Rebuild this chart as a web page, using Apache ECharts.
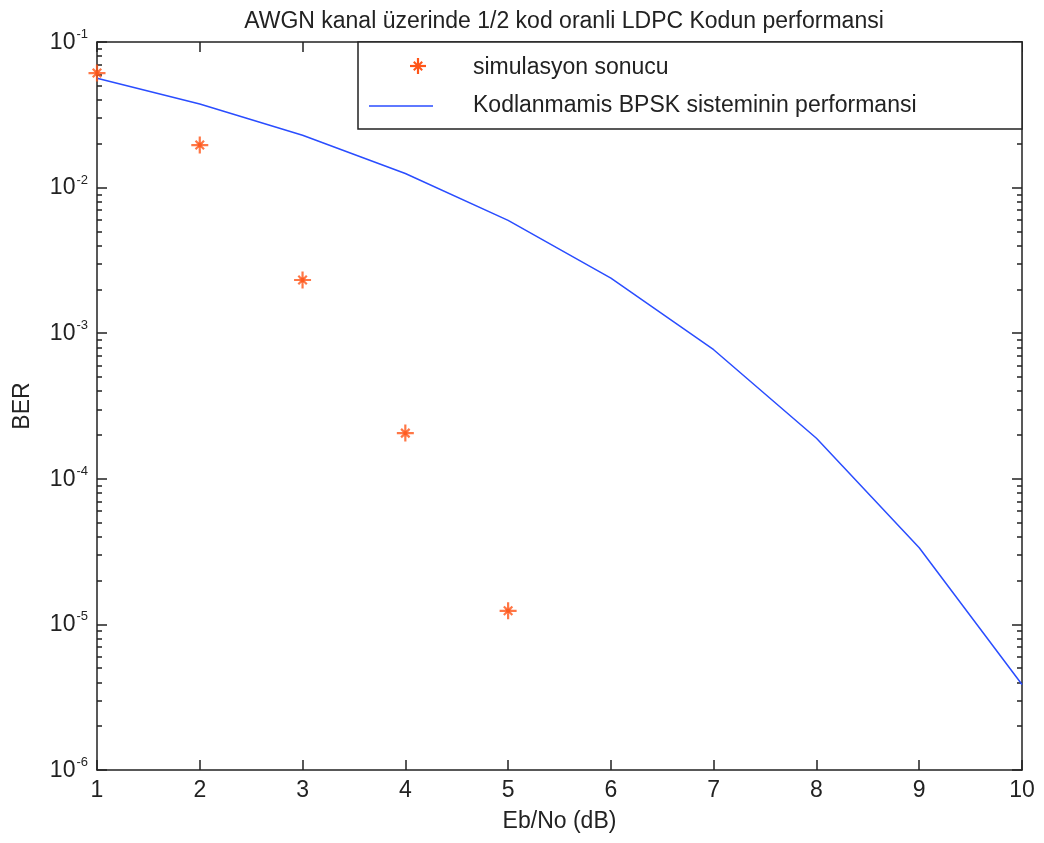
<!DOCTYPE html>
<html><head><meta charset="utf-8">
<script src="https://cdn.jsdelivr.net/npm/echarts@6/dist/echarts.min.js"></script>
<style>html,body{margin:0;padding:0;background:#fff}#c{width:1044px;height:843px}</style>
</head><body><div id="c"></div>
<script>
const ebno = [1,2,3,4,5,6,7,8,9,10];
const simX = [1,2,3,4,5];
const simBER = [0.0612, 0.0196, 0.00232, 0.000206, 0.0000124];
const bpskBER = [0.0563, 0.0375, 0.0229, 0.0125, 0.00595, 0.00239, 0.00077, 0.00019, 0.0000336, 0.00000387];
const titleText = 'AWGN kanal üzerinde 1/2 kod oranli LDPC Kodun performansi';
const simName = 'simulasyon sonucu';
const bpskName = 'Kodlanmamis BPSK sisteminin performansi';

const FONT = 'Liberation Sans, Arial, sans-serif';
const FS = 23;
const INK = '#222';
const MARK = '#ff5518';
const BLUE = '#2a4dff';
const STAR = 'path://M0,-10L0,10M-10,0L10,0M-5,-5L5,5M-5,5L5,-5M-2.6,0A2.6,2.6 0 1,0 2.6,0A2.6,2.6 0 1,0 -2.6,0Z';
const chart = echarts.init(document.getElementById('c'));
const supFmt = v => '{b|10}{s|' + Math.round(Math.log10(v)) + '}';
const axisLine = {show:true, lineStyle:{color:INK, width:1.5}};
const yCommon = {
  type:'log', logBase:10, min:1e-6, max:1e-1,
  axisLine: axisLine,
  axisTick:{show:true, inside:true, length:10, lineStyle:{color:INK, width:1.5}},
  minorTick:{show:true, splitNumber:9, length:5, lineStyle:{color:INK, width:1.5}},
  splitLine:{show:false}
};
chart.setOption({
  animation:false,
  backgroundColor:'#fff',
  title:{text:titleText, left:559, top:5, textAlign:'center',
    textStyle:{fontFamily:FONT, fontSize:FS, fontWeight:'normal', color:INK}},
  grid:{left:97, top:42, right:22, bottom:73, containLabel:false},
  legend:{show:false},
  xAxis:[{
    type:'value', min:1, max:10, interval:1,
    name:'Eb/No (dB)', nameLocation:'middle', nameGap:40,
    nameTextStyle:{fontFamily:FONT, fontSize:FS, color:INK},
    axisLine:axisLine,
    axisTick:{show:true, inside:true, length:10, lineStyle:{color:INK, width:1.5}},
    axisLabel:{fontFamily:FONT, fontSize:FS, color:INK, margin:9},
    splitLine:{show:false}
  },{
    type:'value', min:1, max:10, interval:1, position:'top',
    axisLine:axisLine,
    axisTick:{show:true, inside:true, length:10, lineStyle:{color:INK, width:1.5}},
    axisLabel:{show:false}, splitLine:{show:false}
  }],
  yAxis:[Object.assign({}, yCommon, {
    position:'left',
    name:'BER', nameLocation:'middle', nameGap:63, nameRotate:90,
    nameTextStyle:{fontFamily:FONT, fontSize:FS, color:INK},
    axisLabel:{formatter:supFmt, margin:9, rich:{
      b:{fontFamily:FONT, fontSize:FS, color:INK, verticalAlign:'bottom', lineHeight:24},
      s:{fontFamily:FONT, fontSize:13, color:INK, verticalAlign:'bottom', lineHeight:13, padding:[0,0,13,1]}
    }}
  }), Object.assign({}, yCommon, {position:'right', axisLabel:{show:false}})],
  series:[{
    name:bpskName, type:'line', xAxisIndex:0, yAxisIndex:0,
    data: ebno.map((x,i)=>[x,bpskBER[i]]),
    showSymbol:false, symbol:'none',
    lineStyle:{color:BLUE, width:1.5}, z:2
  },{
    name:simName, type:'scatter', xAxisIndex:0, yAxisIndex:0,
    data: simX.map((x,i)=>[x,simBER[i]]),
    symbol:STAR,
    symbolSize:17,
    itemStyle:{color:MARK, borderColor:MARK, borderWidth:2.2}, z:3
  }],
  graphic:[
    {type:'rect', shape:{x:358, y:42, width:664, height:87}, style:{fill:'#fff', stroke:INK, lineWidth:1.5}, z:100},
    {type:'text', x:473, y:68, style:{text:simName, font:FS+'px '+FONT, fill:INK, textVerticalAlign:'middle'}, z:101},
    {type:'text', x:473, y:106, style:{text:bpskName, font:FS+'px '+FONT, fill:INK, textVerticalAlign:'middle'}, z:101},
    {type:'line', shape:{x1:369, y1:106, x2:433, y2:106}, style:{stroke:BLUE, lineWidth:1.5}, z:101},
    {type:'group', x:418, y:66, z:101, children:[
      {type:'line', shape:{x1:0,y1:-8,x2:0,y2:8}, style:{stroke:MARK, lineWidth:2.2}, z:101},
      {type:'line', shape:{x1:-8,y1:0,x2:8,y2:0}, style:{stroke:MARK, lineWidth:2.2}, z:101},
      {type:'line', shape:{x1:-4.2,y1:-4.2,x2:4.2,y2:4.2}, style:{stroke:MARK, lineWidth:2}, z:101},
      {type:'line', shape:{x1:-4.2,y1:4.2,x2:4.2,y2:-4.2}, style:{stroke:MARK, lineWidth:2}, z:101},
      {type:'circle', shape:{cx:0, cy:0, r:2.2}, style:{fill:MARK}, z:101}
    ]}
  ]
});
</script></body></html>
